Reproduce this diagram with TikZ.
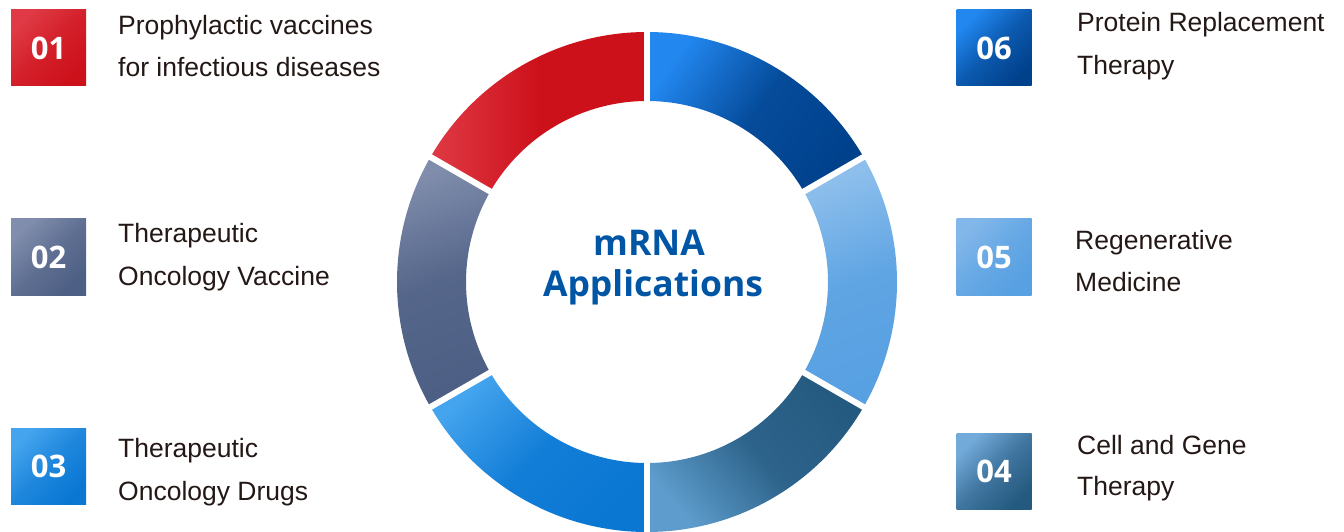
\documentclass[tikz,border=0pt]{standalone}
\usepackage{fontspec}
\setmainfont{Liberation Sans}
\newfontfamily\headfont{Open Sans}
\definecolor{txt}{HTML}{231815}
\definecolor{titleblue}{HTML}{0055A5}
% ring colours
\definecolor{redL}{HTML}{DF3A45}
\definecolor{redD}{HTML}{CD111B}
\definecolor{navyL}{HTML}{2287EF}
\definecolor{navyD}{HTML}{00418C}
\definecolor{skyL}{HTML}{8EBFEC}
\definecolor{skyD}{HTML}{57A0E2}
\definecolor{tealL}{HTML}{5D9CCC}
\definecolor{tealD}{HTML}{255A80}
\definecolor{brightL}{HTML}{44A4EE}
\definecolor{brightD}{HTML}{0A77D3}
\definecolor{slateL}{HTML}{808DAC}
\definecolor{slateD}{HTML}{4D5F84}
\definecolor{tealBox}{HTML}{72AADA}
\definecolor{skyBox}{HTML}{82B7EA}
\newcommand\ringsector[3]{%
  \shade[#3] ([shift={(c)}]#1:250) arc[start angle=#1, end angle=#2, radius=250]
    -- ([shift={(c)}]#2:181) arc[start angle=#2, end angle=#1, radius=181] -- cycle;}
\begin{document}
\begin{tikzpicture}[x=1pt,y=1pt,
  numbox/.style 2 args={minimum width=75pt, minimum height=76pt, inner sep=0pt,
    top color=#1, bottom color=#2, middle color=#1!35!#2, shading angle=45, text=white,
    font=\headfont\bfseries\fontsize{31}{31}\selectfont},
  lbl/.style={anchor=base west, inner sep=0pt, text=txt,
    font=\fontsize{26.5}{26.5}\selectfont},
  ttl/.style={anchor=base, inner sep=0pt, text=titleblue,
    font=\headfont\bfseries\fontsize{35.5}{35.5}\selectfont},
  gapline/.style={white, line width=6pt}
]
\useasboundingbox (0,0) rectangle (1344,531);
\coordinate (c) at (647,249);

% ring
\ringsector{90}{150}{top color=redL, bottom color=redD, middle color=redD, shading angle=90}
\ringsector{30}{90}{top color=navyL, bottom color=navyD, middle color=navyD!85!navyL, shading angle=55}
\ringsector{-30}{30}{top color=skyL, bottom color=skyD, middle color=skyD!85!skyL, shading angle=20}
\ringsector{-90}{-30}{top color=tealD, bottom color=tealL, middle color=tealD!85!tealL, shading angle=-50}
\ringsector{-150}{-90}{top color=brightL, bottom color=brightD, middle color=brightD!85!brightL, shading angle=45}
\ringsector{150}{210}{top color=slateL, bottom color=slateD, middle color=slateD!85!slateL, shading angle=20}
\foreach \a in {90,30,-30,-90,-150,150}
  \draw[gapline] ([shift={(c)}]\a:175) -- ([shift={(c)}]\a:256);

% centre title
\node[ttl] (t1) at (649,276) {mRNA};
\node[ttl] (t2) at (653,235) {Applications};

% number boxes
\node[numbox={redL}{redD}] (b1) at (48.5,483) {01};
\node[numbox={slateL}{slateD}] (b2) at (48.5,274) {02};
\node[numbox={brightL}{brightD}] (b3) at (48.5,65) {03};
\node[numbox={tealBox}{tealD}] (b4) at (994,60) {04};
\node[numbox={skyBox}{skyD}] (b5) at (994,274) {05};
\node[numbox={navyL}{navyD}] (b6) at (994,483) {06};

% labels
\node[lbl] (l1a) at (118,496) {Prophylactic vaccines};
\node[lbl] (l1b) at (118,454) {for infectious diseases};
\node[lbl] (l2a) at (118,288) {Therapeutic};
\node[lbl] (l2b) at (118,246) {Oncology Vaccine};
\node[lbl] (l3a) at (118,74) {Therapeutic};
\node[lbl] (l3b) at (118,31) {Oncology Drugs};
\node[lbl] (l6a) at (1077,499) {Protein Replacement};
\node[lbl] (l6b) at (1077,456) {Therapy};
\node[lbl] (l5a) at (1075,282) {Regenerative};
\node[lbl] (l5b) at (1075,240) {Medicine};
\node[lbl] (l4a) at (1077,77) {Cell and Gene};
\node[lbl] (l4b) at (1077,36) {Therapy};
\end{tikzpicture}
\end{document}
